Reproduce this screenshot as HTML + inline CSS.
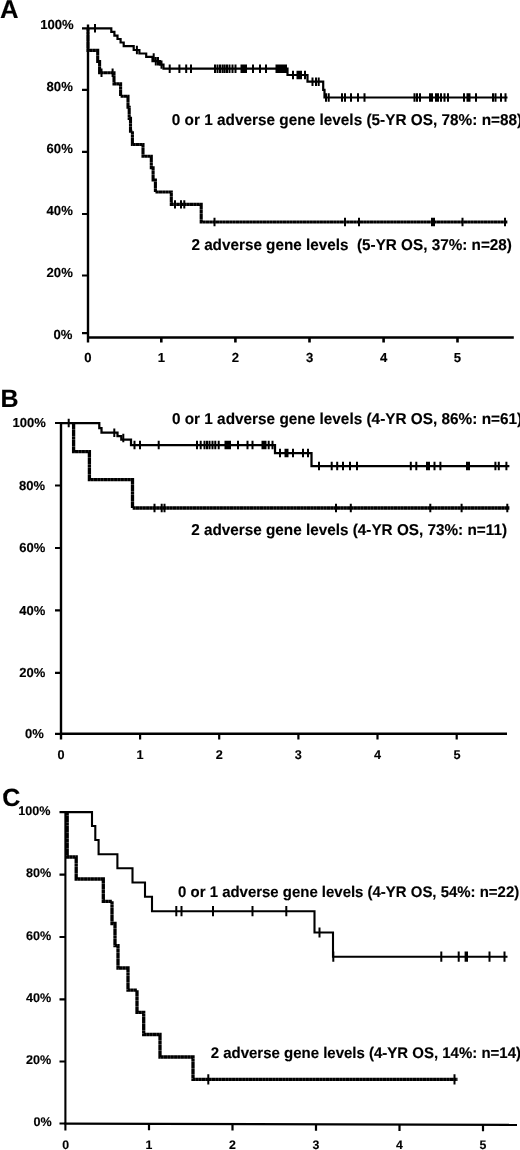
<!DOCTYPE html>
<html lang="en"><head><meta charset="utf-8"><title>Figure</title>
<style>
html,body{margin:0;padding:0;background:#fff}
body{width:520px;height:1150px;overflow:hidden}
svg{display:block}
</style></head><body>
<svg width="520" height="1150" viewBox="0 0 520 1150">
<rect width="520" height="1150" fill="#fff"/>
<g fill="none" stroke="#000" stroke-linecap="butt" stroke-linejoin="miter">
<path stroke-width="2.4" d="M88,24.5V342.5 M86.8,337.5H513.8"/>
<path stroke-width="2.2" d="M82,28.3H88M82,89.8H88M82,151.9H88M82,214.0H88M82,275.5H88M82,333.2H88"/>
<path stroke-width="2.6" d="M161.3,337.5V342.6M235.4,337.5V342.6M309.5,337.5V342.6M383.6,337.5V342.6M457.5,337.5V342.6"/>
<path stroke-width="2.2" d="M88.00,28.30 L111.30,28.30 L111.30,31.90 L114.40,31.90 L114.40,35.60 L117.50,35.60 L117.50,39.00 L120.60,39.00 L120.60,42.50 L123.70,42.50 L123.70,46.20 L133.70,46.20 L133.70,50.00 L139.40,50.00 L139.40,53.50 L146.20,53.50 L146.20,56.90 L152.50,56.90 L152.50,61.20 L160.00,61.20 L160.00,64.60 L163.50,64.60 L163.50,68.70 L287.50,68.70 L287.50,75.00 L307.50,75.00 L307.50,81.70 L323.20,81.70 L323.20,89.80 L324.50,89.80 L324.50,97.50 L507.50,97.50"/>
<path stroke-width="2" d="M95.00,24.10V32.50M136.90,45.80V54.20M153.70,53.30V61.70M155.80,57.00V65.40M158.00,57.00V65.40M161.50,60.40V68.80M169.70,64.50V72.90M179.40,64.50V72.90M186.20,64.50V72.90M191.00,64.50V72.90M215.00,64.50V72.90M217.50,64.50V72.90M220.00,64.50V72.90M222.50,64.50V72.90M224.70,64.50V72.90M227.00,64.50V72.90M229.50,64.50V72.90M232.50,64.50V72.90M235.50,64.50V72.90M241.50,64.50V72.90M243.00,64.50V72.90M244.50,64.50V72.90M246.00,64.50V72.90M253.00,64.50V72.90M260.00,64.50V72.90M266.00,64.50V72.90M276.50,64.50V72.90M278.50,64.50V72.90M280.50,64.50V72.90M282.50,64.50V72.90M284.50,64.50V72.90M286.00,64.50V72.90M293.00,70.80V79.20M297.50,70.80V79.20M299.50,70.80V79.20M301.00,70.80V79.20M305.00,70.80V79.20M312.50,77.50V85.90M316.00,77.50V85.90M318.70,77.50V85.90M326.00,93.30V101.70M328.70,93.30V101.70M342.00,93.30V101.70M345.00,93.30V101.70M351.00,93.30V101.70M358.00,93.30V101.70M364.50,93.30V101.70M414.50,93.30V101.70M417.00,93.30V101.70M420.00,93.30V101.70M430.00,93.30V101.70M432.00,93.30V101.70M436.00,93.30V101.70M438.00,93.30V101.70M441.00,93.30V101.70M444.50,93.30V101.70M448.00,93.30V101.70M464.00,93.30V101.70M467.50,93.30V101.70M469.50,93.30V101.70M476.00,93.30V101.70M493.00,93.30V101.70M495.50,93.30V101.70M501.00,93.30V101.70M505.50,93.30V101.70"/>
<path stroke-width="3.1" stroke-dasharray="3.2 0.15" d="M88.00,28.30 L88.00,50.40 L97.70,50.40 L97.70,61.50 L99.60,61.50 L99.60,72.70 L114.00,72.70 L114.00,83.90 L120.60,83.90 L120.60,96.20 L128.00,96.20 L128.00,107.30 L129.20,107.30 L129.20,118.40 L130.50,118.40 L130.50,131.20 L132.40,131.20 L132.40,144.50 L143.00,144.50 L143.00,156.30 L151.30,156.30 L151.30,167.80 L153.10,167.80 L153.10,180.00 L155.40,180.00 L155.40,192.00 L171.30,192.00 L171.30,204.40 L201.20,204.40 L201.20,222.00 L507.50,222.00"/>
<path stroke-width="2" d="M101.50,68.50V76.90M112.60,68.50V76.90M175.00,200.20V208.60M181.00,200.20V208.60M184.30,200.20V208.60M214.50,217.80V226.20M345.00,217.80V226.20M359.00,217.80V226.20M432.00,217.80V226.20M434.00,217.80V226.20M462.50,217.80V226.20M505.00,217.80V226.20"/>
<path stroke-width="2.4" d="M61,421.9V739.4 M59.8,733.8H507"/>
<path stroke-width="2.2" d="M55,423.0H61M55,485.5H61M55,548H61M55,610.4H61M55,672.9H61M55,733.8H61"/>
<path stroke-width="2.2" d="M140.1,733.8V739.4M219.2,733.8V739.4M298.4,733.8V739.4M377.5,733.8V739.4M456.7,733.8V739.4"/>
<path stroke-width="2.25" d="M61.00,423.00 L99.30,423.00 L99.30,428.00 L101.50,428.00 L101.50,432.70 L117.50,432.70 L117.50,436.20 L121.30,436.20 L121.30,439.50 L131.00,439.50 L131.00,445.00 L275.00,445.00 L275.00,453.00 L311.50,453.00 L311.50,466.00 L509.40,466.00"/>
<path stroke-width="2" d="M68.70,418.80V427.20M114.30,428.50V436.90M123.30,433.80V442.20M134.50,440.80V449.20M140.00,440.80V449.20M158.70,440.80V449.20M197.00,440.80V449.20M200.70,440.80V449.20M204.50,440.80V449.20M207.00,440.80V449.20M209.50,440.80V449.20M212.50,440.80V449.20M215.30,440.80V449.20M218.70,440.80V449.20M225.50,440.80V449.20M227.00,440.80V449.20M228.50,440.80V449.20M230.00,440.80V449.20M238.00,440.80V449.20M247.50,440.80V449.20M252.50,440.80V449.20M262.50,440.80V449.20M264.00,440.80V449.20M265.50,440.80V449.20M268.70,440.80V449.20M272.50,440.80V449.20M280.00,448.80V457.20M285.50,448.80V457.20M287.50,448.80V457.20M293.00,448.80V457.20M303.00,448.80V457.20M308.00,448.80V457.20M319.00,461.80V470.20M331.70,461.80V470.20M337.20,461.80V470.20M343.00,461.80V470.20M350.00,461.80V470.20M357.00,461.80V470.20M410.80,461.80V470.20M416.30,461.80V470.20M427.00,461.80V470.20M429.00,461.80V470.20M434.50,461.80V470.20M440.40,461.80V470.20M467.00,461.80V470.20M469.00,461.80V470.20M495.40,461.80V470.20M498.80,461.80V470.20M506.40,461.80V470.20"/>
<path stroke-width="3.3" stroke-dasharray="3.2 0.15" d="M73.60,423.00 L73.60,451.70 L89.40,451.70 L89.40,479.70 L132.50,479.70 L132.50,508.00 L509.40,508.00"/>
<path stroke-width="2" d="M154.50,503.80V512.20M161.70,503.80V512.20M164.50,503.80V512.20M336.00,503.80V512.20M350.80,503.80V512.20M430.30,503.80V512.20M461.60,503.80V512.20M507.30,503.80V512.20"/>
<path stroke-width="2.1" d="M65.4,811V1130.4"/><path stroke-width="2.4" d="M64.4,1123.6L517,1124.9"/>
<path stroke-width="2.2" d="M59.5,812.1H65.7M59.5,874.6H65.7M59.5,937H65.7M59.5,999.4H65.7M59.5,1061.5H65.7M59.5,1123.5H65.7"/>
<path stroke-width="2.2" d="M149,1123.8V1130.2M232.5,1124.1V1130.5M316,1124.3V1130.7M399.5,1124.6V1131.0M483,1124.8V1131.2"/>
<path stroke-width="2.1" d="M65.70,812.10 L92.00,812.10 L92.00,826.00 L95.30,826.00 L95.30,840.00 L98.60,840.00 L98.60,854.30 L117.40,854.30 L117.40,868.30 L132.50,868.30 L132.50,882.50 L145.00,882.50 L145.00,896.80 L152.00,896.80 L152.00,911.20 L314.50,911.20 L314.50,932.50 L333.00,932.50 L333.00,956.70 L507.50,956.70"/>
<path stroke-width="2" d="M176.30,906.10V916.30M181.50,906.10V916.30M213.00,906.10V916.30M252.50,906.10V916.30M286.30,906.10V916.30M319.50,927.40V937.60M333.30,951.60V961.80M441.30,951.60V961.80M458.70,951.60V961.80M465.60,951.60V961.80M467.00,951.60V961.80M489.50,951.60V961.80M504.50,951.60V961.80"/>
<path stroke-width="3.3" stroke-dasharray="3.2 0.15" d="M67.20,812.10 L67.20,857.00 L76.20,857.00 L76.20,879.00 L103.30,879.00 L103.30,901.30 L112.00,901.30 L112.00,923.50 L115.00,923.50 L115.00,945.70 L118.00,945.70 L118.00,968.00 L128.00,968.00 L128.00,990.20 L137.00,990.20 L137.00,1012.30 L143.70,1012.30 L143.70,1034.50 L160.00,1034.50 L160.00,1057.00 L193.00,1057.00 L193.00,1079.40 L457.50,1079.40"/>
<path stroke-width="2" d="M208.30,1074.30V1084.50M454.50,1074.30V1084.50"/>
</g>
<g font-family="'Liberation Sans', Arial, Helvetica, sans-serif" font-weight="bold" text-rendering="geometricPrecision" fill="#000" stroke="#000" stroke-width="0.15" stroke-linejoin="round">
<g font-size="25">
<text x="-0.1" y="18" font-size="25.7">A</text><text x="0.4" y="407.2">B</text><text x="2.3" y="806.3">C</text>
</g>
<g font-size="13.1" text-anchor="end">
<text x="73.7" y="29.4">100%</text>
<text x="72.8" y="90.9">80%</text>
<text x="72.8" y="153.0">60%</text>
<text x="72.8" y="215.1">40%</text>
<text x="72.8" y="276.6">20%</text>
<text x="72.5" y="338.7">0%</text>
</g><g font-size="13" text-anchor="end">
<text x="45.8" y="427.2">100%</text>
<text x="45.0" y="489.7">80%</text>
<text x="45.3" y="552.2">60%</text>
<text x="45.3" y="614.6">40%</text>
<text x="45.3" y="677.1">20%</text>
<text x="43.8" y="738.0">0%</text>
</g><g font-size="12.6" text-anchor="end">
<text x="50.5" y="814.8">100%</text>
<text x="51.2" y="877.3">80%</text>
<text x="51.2" y="939.7">60%</text>
<text x="51.2" y="1002.1">40%</text>
<text x="51.2" y="1064.2">20%</text>
<text x="51.8" y="1126.2">0%</text>
</g>
<g font-size="13.1" text-anchor="middle">
<text x="88" y="362">0</text>
<text x="161.5" y="362">1</text>
<text x="235.5" y="362">2</text>
<text x="309.6" y="362">3</text>
<text x="383.6" y="362">4</text>
<text x="457.5" y="362">5</text>
</g><g font-size="12.7" text-anchor="middle">
<text x="61" y="759">0</text>
<text x="140.1" y="759">1</text>
<text x="219.2" y="759">2</text>
<text x="298.4" y="759">3</text>
<text x="377.6" y="759">4</text>
<text x="457.1" y="759">5</text>
</g><g font-size="12.3" text-anchor="middle">
<text x="65.7" y="1149.1">0</text>
<text x="149" y="1149.1">1</text>
<text x="232.5" y="1149.1">2</text>
<text x="316" y="1149.1">3</text>
<text x="399.5" y="1149.1">4</text>
<text x="483" y="1149.1">5</text>
</g>
<g font-size="15.7">
<text x="171.8" y="125.3" textLength="350.4" lengthAdjust="spacingAndGlyphs" xml:space="preserve" style="white-space:pre">0 or 1 adverse gene levels (5-YR OS, 78%: n=88)</text>
<text x="191.4" y="249.9" textLength="320.5" lengthAdjust="spacingAndGlyphs" xml:space="preserve" style="white-space:pre">2 adverse gene levels  (5-YR OS, 37%: n=28)</text>
<text x="171.9" y="424.4" textLength="350.3" lengthAdjust="spacingAndGlyphs" xml:space="preserve" style="white-space:pre">0 or 1 adverse gene levels (4-YR OS, 86%: n=61)</text>
<text x="191.2" y="535.2" textLength="315.8" lengthAdjust="spacingAndGlyphs" xml:space="preserve" style="white-space:pre">2 adverse gene levels (4-YR OS, 73%: n=11)</text>
<text x="178.1" y="897.3" textLength="341.1" lengthAdjust="spacingAndGlyphs" xml:space="preserve" style="white-space:pre" font-size="15.4">0 or 1 adverse gene levels (4-YR OS, 54%: n=22)</text>
<text x="210.7" y="1057.6" textLength="310.3" lengthAdjust="spacingAndGlyphs" xml:space="preserve" style="white-space:pre" font-size="15.4">2 adverse gene levels (4-YR OS, 14%: n=14)</text>
</g>
</g>
</svg>
</body></html>
